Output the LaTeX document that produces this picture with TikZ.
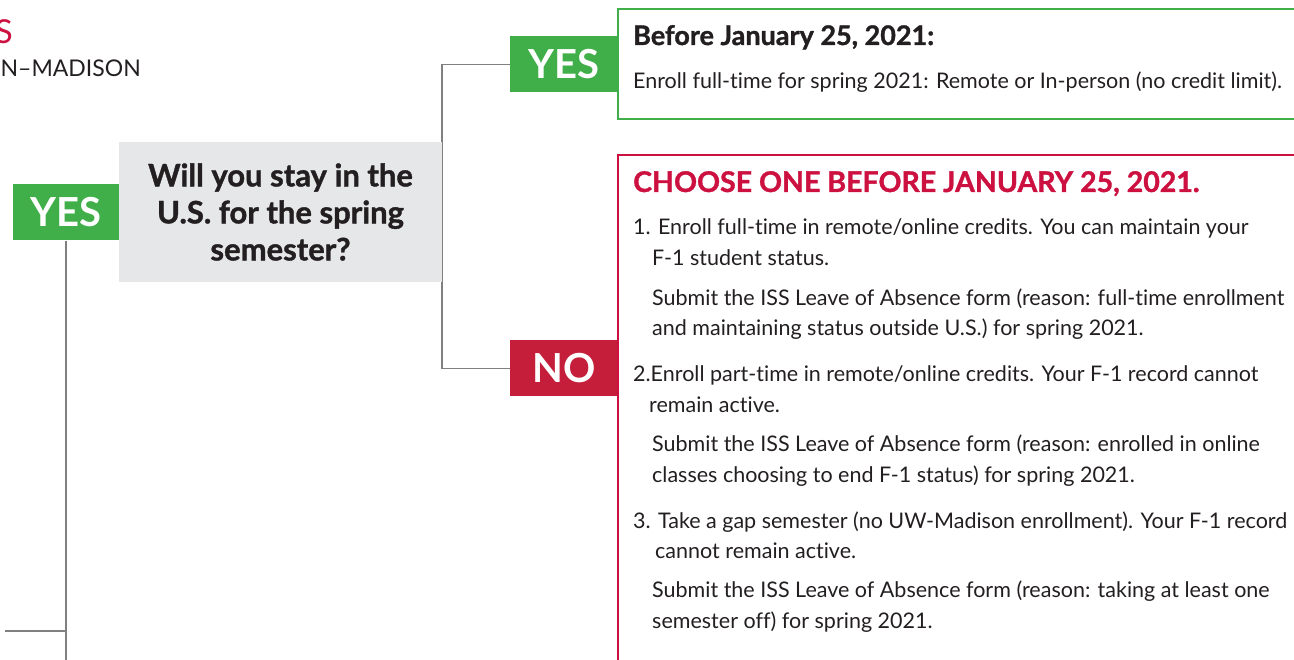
\documentclass[tikz,border=0pt]{standalone}
\usepackage{fontspec}
\setmainfont{Lato}[Ligatures=NoCommon]
\newfontfamily\heavyfont{Lato}[Ligatures=NoCommon,BoldFeatures={FakeBold=1.2}]
\usetikzlibrary{backgrounds}
\definecolor{uwgreen}{RGB}{64,174,73}
\definecolor{uwred}{RGB}{196,30,58}
\definecolor{titlered}{RGB}{204,16,64}
\definecolor{qgray}{RGB}{230,231,232}
\definecolor{linegray}{RGB}{128,128,128}
\definecolor{inkblack}{RGB}{35,31,32}
\tikzset{
  tag/.style={fill=#1, text=white, font=\fontsize{40}{40}\selectfont\bfseries,
    minimum width=108pt, minimum height=56pt, inner sep=0pt},
  panel/.style={draw=#1, line width=1.3pt, minimum width=702pt, inner sep=0pt},
  link/.style={draw=linegray, line width=1.6pt},
  txt/.style={anchor=base west, inner sep=0pt, text=inkblack,
    font=\fontsize{21.5}{26}\selectfont},
  head/.style={anchor=base west, inner sep=0pt, font=\fontsize{27}{30}\selectfont\heavyfont\bfseries}
}
\begin{document}
\begin{tikzpicture}[x=1pt,y=-1pt]
\useasboundingbox (0,0) rectangle (1294,660);
% title, cut at the left edge
\node[anchor=base east, inner sep=0pt, text=titlered, font=\fontsize{33}{33}\selectfont] (ttl) at (13,44) {S};
\node[anchor=base east, inner sep=0pt, text=inkblack, font=\fontsize{23}{23}\selectfont] (uni) at (141,77) {N–MADISON};
% question
\node[tag=uwgreen, minimum width=107pt] (lyes) at (66,212.5) {YES};
\node[fill=qgray, minimum width=323pt, minimum height=140pt, inner sep=0pt, align=center,
  text=inkblack, font=\fontsize{31}{37}\selectfont\heavyfont\bfseries] (ask) at (280.5,212) {Will you stay in the\\U.S. for the spring\\semester?};
\node[tag=uwgreen] (tyes) at (564,64.5) {YES};
\node[tag=uwred] (tno) at (564,368.5) {NO};
% answer panels
\node[panel=uwgreen, minimum height=110pt] (stay) at (969,64) {};
\node[panel=titlered, minimum height=545pt] (away) at (969,427.5) {};
\node[head, text=inkblack] (stayh) at (633,45) {Before January 25, 2021:};
\node[txt] (stay1) at (633,89) {Enroll full-time for spring 2021: Remote or In-person (no credit limit).};
\node[head, text=titlered, font=\fontsize{28.5}{30}\selectfont\heavyfont\bfseries] (awayh) at (633,192) {CHOOSE ONE BEFORE JANUARY 25, 2021.};
\node[txt] (o1a) at (633,235) {1. Enroll full-time in remote/online credits. You can maintain your};
\node[txt] (o1b) at (652,266) {F-1 student status.};
\node[txt] (o1c) at (652,306) {Submit the ISS Leave of Absence form (reason: full-time enrollment};
\node[txt] (o1d) at (652,336) {and maintaining status outside U.S.) for spring 2021.};
\node[txt] (o2a) at (633,382) {2.Enroll part-time in remote/online credits. Your F-1 record cannot};
\node[txt] (o2b) at (649,413) {remain active.};
\node[txt] (o2c) at (652,451) {Submit the ISS Leave of Absence form (reason: enrolled in online};
\node[txt] (o2d) at (652,482) {classes choosing to end F-1 status) for spring 2021.};
\node[txt] (o3a) at (633,528) {3. Take a gap semester (no UW-Madison enrollment). Your F-1 record};
\node[txt] (o3b) at (655,558) {cannot remain active.};
\node[txt] (o3c) at (652,597) {Submit the ISS Leave of Absence form (reason: taking at least one};
\node[txt] (o3d) at (652,628) {semester off) for spring 2021.};
% connectors
\coordinate (lend) at (66,670);
\coordinate (lout) at (5,631);
\begin{scope}[on background layer]
\draw[link] (tyes.west) -| (ask.east) |- (tno.west);
\draw[link] (lyes.south) -- (lend);
\draw[link] (lout) -- (lout -| lyes.south);
\end{scope}
\end{tikzpicture}
\end{document}
